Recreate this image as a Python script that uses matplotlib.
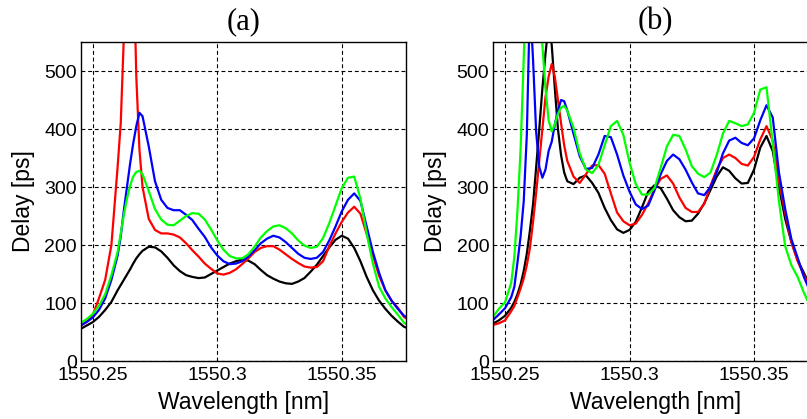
"""
Group delay spectra for two cases, panels (a) and (b).
"""

import matplotlib
matplotlib.use("Agg")
import matplotlib.pyplot as plt

# -----------------------------
# Data
# -----------------------------
wl_a = [1550.245, 1550.2475, 1550.25, 1550.2525, 1550.255, 1550.2575, 1550.26,
        1550.26125, 1550.2625, 1550.26375, 1550.265, 1550.26625, 1550.2675,
        1550.26875, 1550.27, 1550.2725, 1550.275, 1550.2775, 1550.28, 1550.2825,
        1550.285, 1550.2875, 1550.29, 1550.2925, 1550.295, 1550.2975, 1550.30,
        1550.3025, 1550.305, 1550.3075, 1550.31, 1550.3125, 1550.315, 1550.3175,
        1550.32, 1550.3225, 1550.325, 1550.3275, 1550.33, 1550.3325, 1550.335,
        1550.3375, 1550.34, 1550.3425, 1550.345, 1550.3475, 1550.35, 1550.3525,
        1550.355, 1550.3575, 1550.36, 1550.3625, 1550.365, 1550.3675, 1550.37,
        1550.3725, 1550.375, 1550.3775]

black_a = [55, 61, 67, 76, 88, 102, 122, 131, 140, 149, 158, 168, 177, 184, 190,
           197, 196, 189, 178, 165, 155, 148, 145, 143, 144, 150, 156, 162, 168,
           172, 175, 173, 167, 157, 148, 142, 137, 134, 133, 137, 143, 154, 166,
           181, 196, 209, 216, 211, 195, 172, 145, 122, 104, 90, 78, 68, 59, 55]
red_a = [60, 68, 79, 108, 140, 200, 335, 410, 560, 800, 900, 720, 490, 365, 300,
         245, 226, 220, 220, 218, 213, 203, 191, 180, 168, 159, 151, 149, 152,
         158, 167, 177, 188, 195, 198, 198, 192, 184, 176, 169, 163, 161, 162,
         172, 198, 220, 240, 256, 266, 254, 219, 182, 147, 122, 104, 92, 76, 70]
blue_a = [61, 67, 75, 88, 108, 140, 182, 215, 260, 300, 340, 375, 405, 428, 422,
          370, 310, 278, 264, 260, 260, 252, 243, 228, 214, 196, 182, 172, 167,
          168, 172, 180, 191, 203, 211, 216, 213, 205, 195, 185, 178, 176, 178,
          188, 208, 232, 258, 278, 289, 276, 232, 188, 152, 122, 104, 90, 78, 72]
green_a = [65, 72, 81, 95, 115, 148, 188, 220, 252, 280, 302, 318, 326, 328, 322,
           293, 262, 244, 235, 234, 242, 250, 255, 254, 244, 227, 208, 192, 181,
           177, 177, 184, 197, 213, 224, 232, 234, 229, 220, 208, 199, 195, 197,
           212, 238, 268, 298, 316, 318, 280, 220, 168, 128, 108, 93, 80, 66, 60]

wl_b = [1550.245, 1550.2475, 1550.25, 1550.2525, 1550.25375, 1550.255, 1550.25625,
        1550.2575, 1550.25875, 1550.26, 1550.26125, 1550.2625, 1550.26375,
        1550.265, 1550.26625, 1550.2675, 1550.26875, 1550.27, 1550.27125,
        1550.2725, 1550.27375, 1550.275, 1550.2775, 1550.28, 1550.2825, 1550.285,
        1550.2875, 1550.29, 1550.2925, 1550.295, 1550.2975, 1550.30, 1550.3025,
        1550.305, 1550.3075, 1550.31, 1550.3125, 1550.315, 1550.3175, 1550.32,
        1550.3225, 1550.325, 1550.3275, 1550.33, 1550.3325, 1550.335, 1550.3375,
        1550.34, 1550.3425, 1550.345, 1550.3475, 1550.35, 1550.3525, 1550.355,
        1550.3575, 1550.36, 1550.3625, 1550.365, 1550.3675, 1550.37, 1550.3725,
        1550.375, 1550.3775]

black_b = [64, 70, 78, 92, 102, 115, 132, 155, 185, 225, 270, 334, 400, 470, 530,
           580, 545, 470, 400, 355, 325, 310, 305, 316, 320, 307, 290, 264, 243,
           227, 221, 226, 240, 265, 292, 303, 298, 280, 260, 248, 241, 242, 254,
           272, 295, 318, 334, 328, 315, 306, 307, 330, 368, 388, 362, 300, 245,
           205, 174, 152, 130, 112, 96]
red_b = [62, 65, 70, 86, 95, 110, 125, 142, 165, 195, 240, 290, 345, 400, 455,
         490, 512, 490, 450, 410, 372, 345, 318, 307, 322, 337, 338, 323, 289,
         256, 241, 234, 237, 252, 272, 296, 314, 320, 306, 282, 264, 257, 257,
         271, 302, 330, 350, 356, 350, 340, 337, 352, 382, 405, 380, 310, 255,
         205, 172, 148, 128, 110, 95]
blue_b = [70, 80, 91, 110, 128, 170, 215, 275, 390, 620, 520, 395, 335, 316, 330,
          362, 378, 408, 432, 450, 448, 432, 392, 353, 331, 333, 356, 388, 386,
          356, 320, 292, 270, 262, 268, 294, 322, 345, 356, 348, 330, 308, 289,
          286, 300, 325, 358, 380, 385, 376, 372, 384, 415, 441, 420, 325, 262,
          210, 178, 145, 120, 100, 85]
green_b = [75, 90, 101, 135, 180, 260, 365, 520, 680, 800, 850, 820, 700, 545,
           470, 415, 396, 408, 426, 437, 440, 432, 402, 358, 330, 324, 338, 372,
           405, 414, 390, 342, 305, 287, 287, 298, 333, 370, 390, 388, 365, 336,
           323, 317, 325, 355, 392, 414, 410, 405, 408, 428, 468, 472, 375, 275,
           198, 165, 145, 118, 95, 80, 70]

xticks = [1550.25, 1550.30, 1550.35]
xtick_labels = ['1550.25', '1550.3', '1550.35']
yticks = [0, 100, 200, 300, 400, 500]
titles = ['(a)', '(b)']

# -----------------------------
# Plot
# -----------------------------
plt.rcParams['font.family'] = ['Liberation Sans', 'DejaVu Sans']

fig = plt.figure(figsize=(8.07, 4.19), dpi=100)
ax_a = fig.add_axes([0.1004, 0.1384, 0.4024, 0.7613])
ax_b = fig.add_axes([0.6113, 0.1384, 0.4024, 0.7613])  # runs off the right edge

panels = [
    (ax_a, wl_a, [black_a, red_a, blue_a, green_a]),
    (ax_b, wl_b, [black_b, red_b, blue_b, green_b]),
]
colors = ['black', '#ff0000', '#0000ff', '#00ff00']

for (ax, wl, curves), title in zip(panels, titles):
    for y, c in zip(curves, colors):
        ax.plot(wl, y, color=c, lw=1.6)
    ax.set_xlim(1550.2453, 1550.3757)
    ax.set_ylim(0, 550)
    ax.set_xticks(xticks)
    ax.set_xticklabels(xtick_labels)
    ax.set_yticks(yticks)
    ax.tick_params(length=0, labelsize=14)
    ax.tick_params(axis='x', pad=4)
    ax.tick_params(axis='y', pad=3)
    ax.grid(True, color='black', linestyle=(0, (3.5, 2.5)), linewidth=0.8)
    for s in ax.spines.values():
        s.set_linewidth(1.0)
    ax.set_xlabel('Wavelength [nm]', fontsize=16.5)
    ax.set_ylabel('Delay [ps]', fontsize=16.5)
    ax.xaxis.set_label_coords(0.5, -0.095)
    ax.yaxis.set_label_coords(-0.142, 0.5)
    ax.set_title(title, fontsize=22, family='Liberation Serif', pad=9)

fig.savefig('out.png', dpi=100)
